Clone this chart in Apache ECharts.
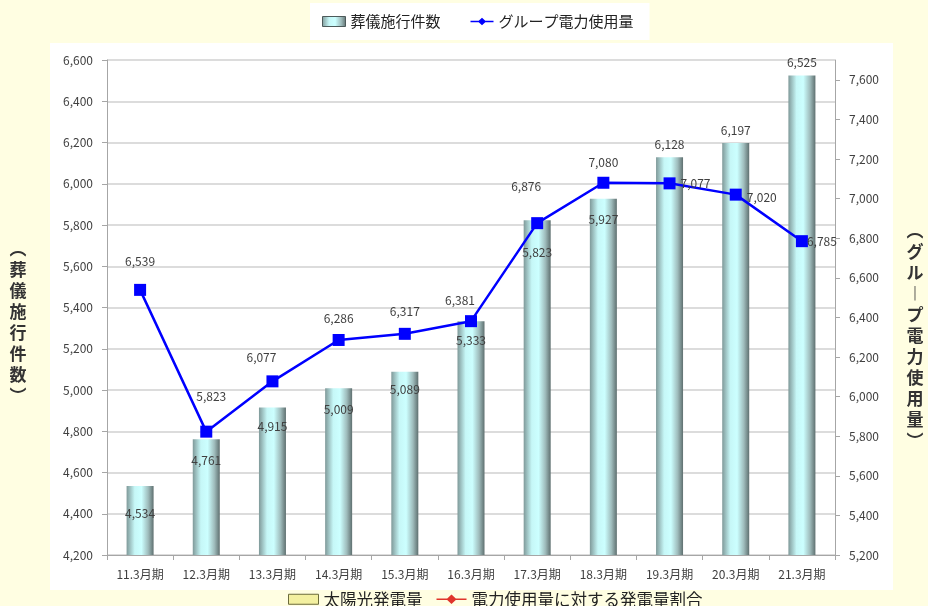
<!DOCTYPE html>
<html>
<head>
<meta charset="utf-8">
<script src="https://cdn.jsdelivr.net/npm/echarts@6/dist/echarts.min.js"></script>
<style>
html,body{margin:0;padding:0;background:#FFFEE2;}
#chart{width:928px;height:606px;}
</style>
</head>
<body>
<div id="chart"></div>
<script>
// ---- data ----
const categories = ['11.3月期','12.3月期','13.3月期','14.3月期','15.3月期','16.3月期','17.3月期','18.3月期','19.3月期','20.3月期','21.3月期'];
const funeralCounts = [4534,4761,4915,5009,5089,5333,5823,5927,6128,6197,6525];
const powerUsage = [6539,5823,6077,6286,6317,6381,6876,7080,7077,7020,6785];
const seriesNames = ['葬儀施行件数','グループ電力使用量','太陽光発電量','電力使用量に対する発電量割合'];
const leftAxisName = '︵\n葬\n儀\n施\n行\n件\n数\n︶';
const rightAxisName = '︵\nグ\nル\n︱\nプ\n電\n力\n使\n用\n量\n︶';

// ---- label placement (styling) ----
const barLabelDy = [27,21,19,21,18,19,32,21,-13,-13,-13];
const lineLabelOffset = [[0,-28],[5,-35],[-11,-24],[0,-22],[0,-22],[-11,-21],[-11,-37],[0,-20],[26,0],[26,3],[20,0]];

const fmt = v => Number(v).toLocaleString('en-US');
const FONT = '"Noto Sans CJK JP", "Noto Sans", sans-serif';
const TXT = '#404040';

const barGradient = new echarts.graphic.LinearGradient(0,0,1,0,[
  {offset:0, color:'#7f9999'},
  {offset:0.3, color:'#c6f7f7'},
  {offset:0.55, color:'#ccffff'},
  {offset:0.8, color:'#9fbcbc'},
  {offset:1, color:'#5f7070'}
]);

const lineIcon = 'path://M0,4.2L10,4.2L14,0.5L18,4.2L28,4.2L28,5.8L18,5.8L14,9.5L10,5.8L0,5.8Z';

const chart = echarts.init(document.getElementById('chart'), null, {renderer:'canvas'});
chart.setOption({
  backgroundColor:'#FFFEE2',
  textStyle:{fontFamily:FONT},
  animation:false,
  graphic:[
    {type:'rect', left:50, top:43, shape:{width:843, height:547}, style:{fill:'#ffffff'}, z:-10},
    {type:'text', x:18, y:322, z:10,
     style:{text:leftAxisName, font:'bold 17px ' + FONT, lineHeight:21, fill:'#333', align:'center', verticalAlign:'middle'}},
    {type:'text', x:915, y:336, z:10,
     style:{text:rightAxisName, font:'bold 17px ' + FONT, lineHeight:21, fill:'#333', align:'center', verticalAlign:'middle'}}
  ],
  grid:{left:107, right:93, top:60, bottom:51},
  legend:[
    {
      data:[
        {name:seriesNames[0], icon:'rect', itemStyle:{borderColor:'#4d5a5a', borderWidth:1}},
        {name:seriesNames[1], icon:lineIcon, itemStyle:{color:'#0000ff'}}
      ],
      left:310, top:3, backgroundColor:'#ffffff',
      padding:[11,16,11,12], itemGap:30, itemWidth:23, itemHeight:10,
      textStyle:{fontSize:15, color:'#222', fontFamily:FONT}
    },
    {
      data:[
        {name:seriesNames[2], icon:'rect', itemStyle:{color:'#f3f0a0', borderColor:'#6b6b3a', borderWidth:1}},
        {name:seriesNames[3], icon:lineIcon, itemStyle:{color:'#e0352b'}}
      ],
      left:288, top:591, padding:[0,0,0,0], itemGap:14, itemWidth:30, itemHeight:10,
      textStyle:{fontSize:16.5, color:'#222', fontFamily:FONT}
    }
  ],
  xAxis:{
    type:'category', data:categories,
    axisLine:{lineStyle:{color:'#a6a6a6', width:1}},
    axisTick:{show:true, length:5, lineStyle:{color:'#a6a6a6'}},
    axisLabel:{color:TXT, fontSize:12, margin:13, fontFamily:FONT}
  },
  yAxis:[
    {
      type:'value', min:4200, max:6600, interval:200,
      axisLine:{show:true, lineStyle:{color:'#a6a6a6'}},
      axisTick:{show:true, length:5, lineStyle:{color:'#a6a6a6'}},
      axisLabel:{color:TXT, fontSize:12, margin:14, formatter:fmt, fontFamily:FONT},
      splitLine:{show:true, lineStyle:{color:'#d0d0d0', width:1.5}}
    },
    {
      type:'value', min:5200, max:7700, interval:200, position:'right',
      axisLine:{show:true, lineStyle:{color:'#a6a6a6'}},
      axisTick:{show:true, length:5, lineStyle:{color:'#a6a6a6'}},
      axisLabel:{color:TXT, fontSize:12, margin:14, formatter:fmt, showMaxLabel:false, fontFamily:FONT},
      splitLine:{show:false}
    }
  ],
  series:[
    {
      name:seriesNames[0], type:'bar', yAxisIndex:0, barWidth:27,
      itemStyle:{color:barGradient},
      data:funeralCounts.map((v,i)=>({
        value:v,
        label:{show:true, position:['50%', barLabelDy[i]], align:'center', verticalAlign:'middle',
               formatter:p=>fmt(p.value), color:TXT, fontSize:12, fontFamily:FONT}
      })),
      z:2
    },
    {
      name:seriesNames[1], type:'line', yAxisIndex:1,
      symbol:'rect', symbolSize:12,
      lineStyle:{color:'#0000ff', width:2.5},
      itemStyle:{color:'#0000ff'},
      data:powerUsage.map((v,i)=>({
        value:v,
        label:{show:true, position:'inside', offset:lineLabelOffset[i],
               formatter:p=>fmt(p.value), color:TXT, fontSize:12, fontFamily:FONT}
      })),
      z:3
    },
    {name:seriesNames[2], type:'line', yAxisIndex:0, data:[], itemStyle:{color:'#f3f0a0'}},
    {name:seriesNames[3], type:'line', yAxisIndex:1, data:[], itemStyle:{color:'#e0352b'}}
  ]
});
</script>
</body>
</html>
